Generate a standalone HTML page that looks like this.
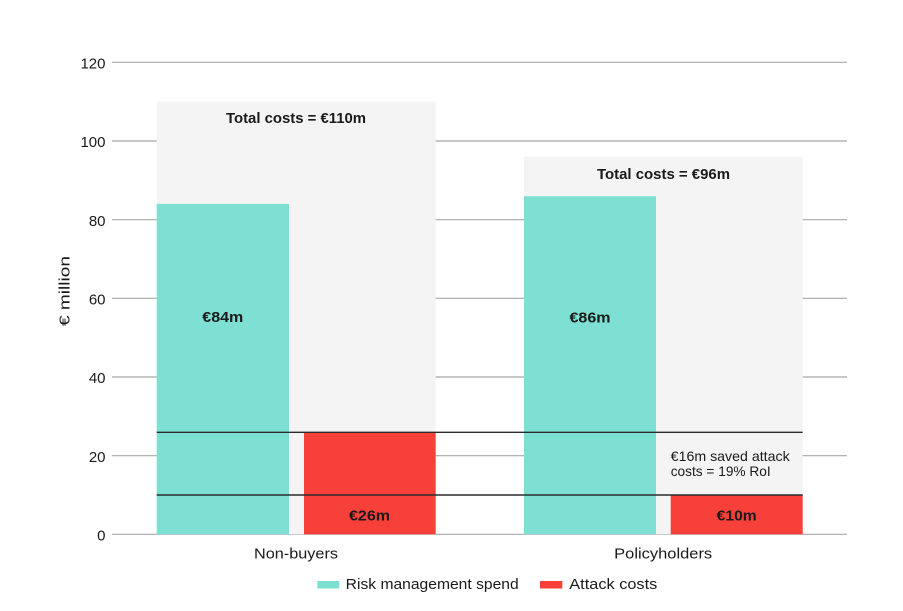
<!DOCTYPE html>
<html>
<head>
<meta charset="utf-8">
<style>
html,body{margin:0;padding:0;background:#fff;}
svg{display:block;}
text{font-family:"Liberation Sans",Arial,sans-serif;fill:#1a1a1a;}
</style>
</head>
<body>
<svg width="903" height="611" viewBox="0 0 903 611" xmlns="http://www.w3.org/2000/svg">
  <rect x="0" y="0" width="903" height="611" fill="#fff"/>
  <!-- gridlines -->
  <g stroke="#a8a8a8" stroke-width="1.2">
    <line x1="112" y1="62.3" x2="847" y2="62.3"/>
    <line x1="112" y1="141" x2="847" y2="141"/>
    <line x1="112" y1="219.7" x2="847" y2="219.7"/>
    <line x1="112" y1="298.3" x2="847" y2="298.3"/>
    <line x1="112" y1="377" x2="847" y2="377"/>
    <line x1="112" y1="455.7" x2="847" y2="455.7"/>
    <line x1="112" y1="534.3" x2="847" y2="534.3"/>
  </g>
  <!-- tick labels -->
  <g font-size="15" text-anchor="end">
    <text x="105.5" y="68.5">120</text>
    <text x="105.5" y="147.2">100</text>
    <text x="105.5" y="225.9">80</text>
    <text x="105.5" y="304.5">60</text>
    <text x="105.5" y="383.2">40</text>
    <text x="105.5" y="461.9">20</text>
    <text x="105.5" y="540.5">0</text>
  </g>
  <text x="0" y="0" font-size="15" text-anchor="middle" transform="translate(69.5,291) rotate(-90)" textLength="70" lengthAdjust="spacingAndGlyphs">€ million</text>

  <!-- gray total boxes -->
  <rect x="156.7" y="101.6" width="279" height="432.7" fill="#f4f4f4"/>
  <rect x="524" y="156.7" width="278.7" height="377.6" fill="#f4f4f4"/>

  <!-- teal bars -->
  <rect x="156.7" y="203.9" width="132.3" height="330.4" fill="#7de0d2"/>
  <rect x="524" y="196.2" width="132" height="338.1" fill="#7de0d2"/>
  <!-- red bars -->
  <rect x="304" y="432" width="131.7" height="102.3" fill="#f8403a"/>
  <rect x="670.7" y="495" width="132" height="39.3" fill="#f8403a"/>

  <!-- black reference lines -->
  <g stroke="#2b2b2b" stroke-width="1.4">
    <line x1="156.7" y1="432.3" x2="802.7" y2="432.3"/>
    <line x1="156.7" y1="495" x2="802.7" y2="495"/>
  </g>

  <!-- bar labels -->
  <g font-size="15" font-weight="bold" text-anchor="middle">
    <text x="296" y="123" textLength="140" lengthAdjust="spacingAndGlyphs">Total costs = €110m</text>
    <text x="663.5" y="179" textLength="133" lengthAdjust="spacingAndGlyphs">Total costs = €96m</text>
    <text x="222.8" y="322" textLength="41" lengthAdjust="spacingAndGlyphs">€84m</text>
    <text x="590" y="322.3" textLength="41" lengthAdjust="spacingAndGlyphs">€86m</text>
    <text x="369.5" y="520.7" textLength="41" lengthAdjust="spacingAndGlyphs">€26m</text>
    <text x="736.7" y="520.7" textLength="40" lengthAdjust="spacingAndGlyphs">€10m</text>
  </g>
  <g font-size="14">
    <text x="670.7" y="461" textLength="119" lengthAdjust="spacingAndGlyphs">€16m saved attack</text>
    <text x="670.7" y="476" textLength="100" lengthAdjust="spacingAndGlyphs">costs = 19% RoI</text>
  </g>

  <!-- category labels -->
  <g font-size="15" text-anchor="middle">
    <text x="296" y="558.3" textLength="84" lengthAdjust="spacingAndGlyphs">Non-buyers</text>
    <text x="663.2" y="558.3" textLength="98" lengthAdjust="spacingAndGlyphs">Policyholders</text>
  </g>

  <!-- legend -->
  <rect x="317.3" y="581" width="22" height="7.5" fill="#7de0d2"/>
  <text x="345.7" y="589" font-size="15" textLength="173" lengthAdjust="spacingAndGlyphs">Risk management spend</text>
  <rect x="540" y="581" width="22.3" height="7.5" fill="#f8403a"/>
  <text x="569.3" y="589" font-size="15" textLength="88" lengthAdjust="spacingAndGlyphs">Attack costs</text>
</svg>
</body>
</html>
